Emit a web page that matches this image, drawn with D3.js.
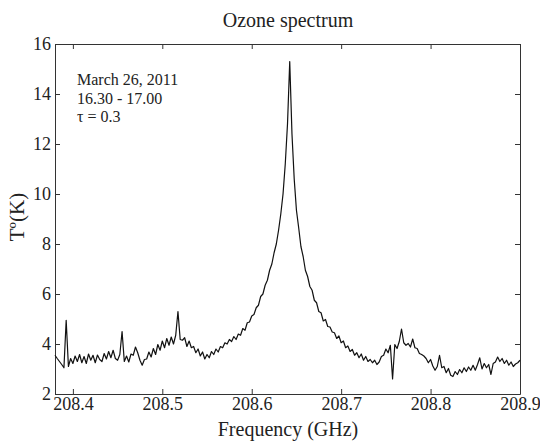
<!DOCTYPE html>
<html>
<head>
<meta charset="utf-8">
<script src="https://cdn.jsdelivr.net/npm/d3@7"></script>
<style>
  body { margin: 0; background: #fff; }
  .axis path, .axis line { stroke: #333; }
</style>
</head>
<body>
<svg id="chart" width="540" height="441"></svg>
<script>
// sampling grid of the spectrometer (GHz)
const freqStart = 208.38;
const freqStep = 0.0025;

// antenna temperature (K), one value per channel
const spectrum = [
  3.55, 3.42, 3.30, 3.18, 3.05, 4.95, 3.10, 3.42, 3.22, 3.52,
  3.30, 3.58, 3.25, 3.50, 3.22, 3.60, 3.35, 3.55, 3.25, 3.56,
  3.38, 3.30, 3.62, 3.40, 3.70, 3.45, 3.75, 3.42, 3.35, 3.58,
  4.50, 3.30, 3.52, 3.28, 3.60, 3.55, 3.88, 3.65, 3.35, 3.15,
  3.38, 3.40, 3.68, 3.48, 3.82, 3.58, 3.98, 3.75, 4.12, 3.85,
  4.22, 3.95, 4.28, 4.00, 4.35, 5.30, 4.18, 4.15, 4.25, 3.90,
  4.12, 3.85, 3.90, 3.65, 3.80, 3.52, 3.68, 3.40, 3.58, 3.45,
  3.70, 3.58, 3.80, 3.68, 3.90, 3.85, 4.05, 4.00, 4.18, 4.10,
  4.30, 4.18, 4.40, 4.35, 4.62, 4.55, 4.85, 4.88, 5.12, 5.18,
  5.45, 5.55, 5.90, 6.00, 6.35, 6.55, 6.95, 7.20, 7.65, 8.00,
  8.55, 9.20, 10.0, 11.2, 12.8, 15.3, 12.4, 10.6, 9.35, 8.65,
  7.90, 7.50, 6.95, 6.70, 6.30, 6.15, 5.75, 5.65, 5.30, 5.25,
  4.92, 4.98, 4.70, 4.68, 4.48, 4.45, 4.22, 4.32, 4.05, 4.12,
  3.85, 3.92, 3.70, 3.78, 3.55, 3.65, 3.45, 3.60, 3.35, 3.50,
  3.30, 3.38, 3.25, 3.35, 3.18, 3.28, 3.50, 3.55, 3.80, 3.65,
  3.95, 2.60, 3.98, 3.82, 4.10, 4.60, 4.05, 3.95, 4.02, 3.88,
  4.20, 3.85, 3.82, 3.62, 3.58, 3.52, 3.42, 3.25, 3.38, 3.12,
  2.95, 3.10, 3.55, 3.05, 3.10, 2.85, 3.02, 2.75, 2.70, 2.90,
  2.78, 2.98, 2.85, 3.05, 2.90, 3.08, 2.95, 3.15, 2.95, 3.18,
  3.45, 3.00, 3.22, 3.05, 3.18, 2.78, 3.22, 3.28, 3.48, 3.30,
  3.42, 3.22, 3.35, 3.15, 3.28, 3.10, 3.20, 3.25, 3.35
];

const xTicks = [208.4, 208.5, 208.6, 208.7, 208.8, 208.9];
const yTicks = [2, 4, 6, 8, 10, 12, 14, 16];
const notes = ["March 26, 2011", "16.30 - 17.00", "\u03c4 = 0.3"];

const serif = "'Liberation Serif', 'Times New Roman', 'DejaVu Serif', serif";
const svg = d3.select("#chart");
const margin = { top: 44, right: 20, bottom: 47, left: 55 };
const width = 540, height = 441;

const x = d3.scaleLinear()
  .domain([208.38, 208.9])
  .range([margin.left, width - margin.right]);

const y = d3.scaleLinear()
  .domain([2, 16])
  .range([height - margin.bottom, margin.top]);

const points = spectrum.map((v, i) => ({ f: freqStart + i * freqStep, t: v }));

function styleAxis(g) {
  g.attr("font-family", serif).attr("font-size", 18);
  g.selectAll("text").attr("fill", "#222");
}

// axis box with inward ticks on all four sides
svg.append("g")
  .attr("class", "axis")
  .attr("transform", `translate(0,${y(2)})`)
  .call(d3.axisBottom(x).tickValues(xTicks).tickFormat(d3.format(".1f"))
    .tickSizeInner(-5).tickSizeOuter(0).tickPadding(3))
  .call(styleAxis);

svg.append("g")
  .attr("class", "axis")
  .attr("transform", `translate(0,${y(16)})`)
  .call(d3.axisTop(x).tickValues(xTicks).tickFormat("")
    .tickSizeInner(-5).tickSizeOuter(0));

svg.append("g")
  .attr("class", "axis")
  .attr("transform", `translate(${x(208.38)},0)`)
  .call(d3.axisLeft(y).tickValues(yTicks).tickFormat(d3.format("d"))
    .tickSizeInner(-5).tickSizeOuter(0).tickPadding(4))
  .call(styleAxis);

svg.append("g")
  .attr("class", "axis")
  .attr("transform", `translate(${x(208.9)},0)`)
  .call(d3.axisRight(y).tickValues(yTicks).tickFormat("")
    .tickSizeInner(-5).tickSizeOuter(0));

const line = d3.line()
  .x(d => x(d.f))
  .y(d => y(d.t));

svg.append("path")
  .datum(points)
  .attr("fill", "none")
  .attr("stroke", "#111")
  .attr("stroke-width", 1.2)
  .attr("stroke-linejoin", "round")
  .attr("d", line);

svg.append("text")
  .attr("x", 288)
  .attr("y", 27)
  .attr("text-anchor", "middle")
  .attr("font-family", serif)
  .attr("font-size", 20)
  .attr("fill", "#222")
  .text("Ozone spectrum");

svg.append("text")
  .attr("x", 288)
  .attr("y", 436)
  .attr("text-anchor", "middle")
  .attr("font-family", serif)
  .attr("font-size", 20)
  .attr("fill", "#222")
  .text("Frequency (GHz)");

svg.append("text")
  .attr("transform", "translate(24,217) rotate(-90)")
  .attr("text-anchor", "middle")
  .attr("font-family", serif)
  .attr("font-size", 21)
  .attr("fill", "#222")
  .text("T\u00ba(K)");

svg.append("g")
  .selectAll("text")
  .data(notes)
  .join("text")
  .attr("x", 77)
  .attr("y", (d, i) => 85 + i * 18.5)
  .attr("font-family", serif)
  .attr("font-size", 16)
  .attr("fill", "#222")
  .text(d => d);
</script>
</body>
</html>
